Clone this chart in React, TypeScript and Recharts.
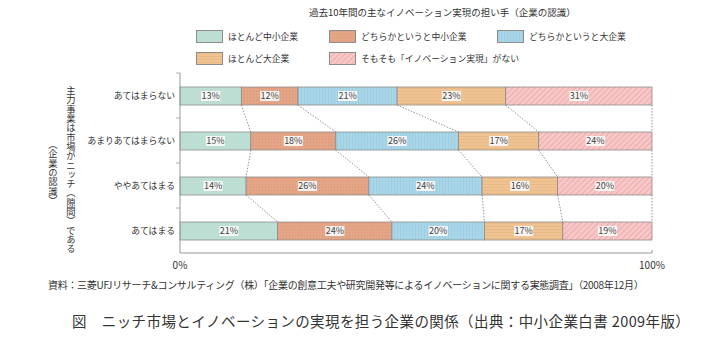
import { BarChart, Bar, XAxis, YAxis } from "recharts";

const categories = ["あてはまらない", "あまりあてはまらない", "ややあてはまる", "あてはまる"];
const mostlySME = [13, 15, 14, 20.7];
const ratherSME = [12, 18, 26, 24.2];
const ratherLarge = [21, 26, 24, 19.6];
const mostlyLarge = [23, 17, 16, 16.6];
const noInnovation = [31, 24, 20, 18.9];
const seriesNames = [
  "ほとんど中小企業",
  "どちらかというと中小企業",
  "どちらかというと大企業",
  "ほとんど大企業",
  "そもそも「イノベーション実現」がない",
];
const xTicks = [0, 100];

const series = [mostlySME, ratherSME, ratherLarge, mostlyLarge, noInnovation];
const keys = ["s0", "s1", "s2", "s3", "s4"];
const fills = ["url(#p0)", "url(#p1)", "url(#p2)", "url(#p3)", "url(#p4)"];
const swatch = ["#bddfd3", "#e4a486", "#a9d6e8", "#f0c392", "#f8c9c9"];

const data = categories.map((cat, i) => {
  const row: any = { cat };
  series.forEach((s, k) => (row[keys[k]] = s[i]));
  return row;
});

const W = 710;
const H = 342;
const M = { top: 73, right: 58, bottom: 69, left: 10 };
const X_H = 20;
const PLOT_H = H - M.top - M.bottom - X_H;
const BAND = PLOT_H / categories.length;
const FONT = '"Noto Sans CJK JP", "Noto Sans", sans-serif';

const cum = (k: number, i: number) => {
  let s = 0;
  for (let j = 0; j <= k; j++) s += series[j][i];
  return s;
};

const makeShape = (k: number) => (props: any) => {
  const { x, y, width, height, index } = props;
  const v = series[k][index];
  const pp = width / v;
  const x0 = x - (cum(k, index) - v) * pp;
  const last = index === categories.length - 1;
  const nx = last ? 0 : x0 + cum(k, index + 1) * pp;
  const label = `${Math.round(v)}%`;
  const cx = x + width / 2;
  const cy = y + height / 2;
  const bw = label.length * 5.4 + 3;
  return (
    <g>
      <rect x={x} y={y} width={width} height={height} fill={fills[k]} stroke="#8d8d8d" strokeWidth={0.8} />
      <rect x={cx - bw / 2} y={cy - 5} width={bw} height={10} fill="#fbfbfb" opacity={0.9} />
      <text x={cx} y={cy + 3.3} textAnchor="middle" fontSize={9} fill="#444" fontFamily={FONT}>
        {label}
      </text>
      {!last && (
        <line
          x1={x + width}
          y1={y + height}
          x2={nx}
          y2={y + BAND}
          stroke="#666"
          strokeWidth={0.7}
          strokeDasharray="1.5 1.5"
        />
      )}
    </g>
  );
};

const YTick = (props: any) => {
  const { x, y, payload } = props;
  const off = payload.offset ?? BAND / 2;
  return (
    <g>
      <text x={x} y={y + 3.5} textAnchor="end" fontSize={8.8} fill="#333" fontFamily={FONT}>
        {payload.value}
      </text>
      <line x1={x + 1} y1={y - off} x2={x + 5} y2={y - off} stroke="#999" strokeWidth={0.8} />
    </g>
  );
};

const XTick = (props: any) => {
  const { x, y, payload } = props;
  return (
    <g>
      <text x={x} y={y + 14} textAnchor="middle" fontSize={10} fill="#333" fontFamily={FONT}>
        {payload.value}%
      </text>
      {payload.value === 100 && <line x1={x} y1={y - 5} x2={x} y2={y - 2} stroke="#999" />}
    </g>
  );
};

const legendPos = [
  { left: 196, top: 30 },
  { left: 329, top: 30 },
  { left: 497, top: 30 },
  { left: 196, top: 52 },
  { left: 329, top: 52 },
];

export default function App() {
  return (
    <div style={{ position: "absolute", left: 0, top: 0, width: W, height: H, background: "#fff", fontFamily: FONT, color: "#333" }}>
      <div style={{ position: "absolute", left: 309, top: 5, fontSize: 9.5, whiteSpace: "nowrap" }}>
        過去10年間の主なイノベーション実現の担い手（企業の認識）
      </div>
      {seriesNames.map((n, k) => (
        <div key={n} style={{ position: "absolute", left: legendPos[k].left, top: legendPos[k].top, display: "flex", alignItems: "center", fontSize: 8.8, whiteSpace: "nowrap" }}>
          <svg width={27} height={13} style={{ marginRight: 5 }}>
            <defs>
              <Patterns idp={`l${k}`} />
            </defs>
            <rect x={0.5} y={0.5} width={26} height={12} fill={`url(#l${k}${k})`} stroke="#8d8d8d" />
          </svg>
          {n}
        </div>
      ))}
      <div style={{ position: "absolute", left: 62, top: 86, writingMode: "vertical-rl", fontSize: 9.3, lineHeight: "18px", whiteSpace: "nowrap" }}>
        主力事業は市場がニッチ（隙間）である
      </div>
      <div style={{ position: "absolute", left: 44, top: 140, writingMode: "vertical-rl", fontSize: 9.3, lineHeight: "18px", whiteSpace: "nowrap" }}>
        （企業の認識）
      </div>
      <div style={{ position: "absolute", left: 48, top: 277, fontSize: 10, whiteSpace: "nowrap", letterSpacing: -0.3 }}>
        資料：三菱UFJリサーチ&コンサルティング（株）「企業の創意工夫や研究開発等によるイノベーションに関する実態調査」（2008年12月）
      </div>
      <div style={{ position: "absolute", left: 72, top: 310, fontSize: 14.5, letterSpacing: 0.4, whiteSpace: "nowrap" }}>
        図　ニッチ市場とイノベーションの実現を担う企業の関係（出典：中小企業白書 2009年版）
      </div>
      <div style={{ position: "absolute", left: 0, top: 0 }}>
        <BarChart width={W} height={H} data={data} layout="vertical" margin={M} barSize={18}>
          <defs>
            <Patterns idp="p" />
          </defs>
          <XAxis
            type="number"
            domain={[0, 100]}
            ticks={xTicks}
            height={X_H}
            axisLine={{ stroke: "#999" }}
            tickLine={false}
            tickSize={0}
            tickMargin={2}
            tick={<XTick />}
          />
          <YAxis
            type="category"
            dataKey="cat"
            width={170}
            axisLine={{ stroke: "#999" }}
            tickLine={false}
            tickSize={0}
            tickMargin={5}
            tick={<YTick />}
          />
          {keys.map((key, k) => (
            <Bar key={key} dataKey={key} stackId="a" isAnimationActive={false} shape={makeShape(k)} />
          ))}
        </BarChart>
      </div>
    </div>
  );
}

function Patterns({ idp }: { idp: string }) {
  return (
    <>
      <pattern id={`${idp}0`} width={4} height={4} patternUnits="userSpaceOnUse">
        <rect width={4} height={4} fill={swatch[0]} />
      </pattern>
      <pattern id={`${idp}1`} width={3} height={3} patternUnits="userSpaceOnUse">
        <rect width={3} height={3} fill={swatch[1]} />
        <rect x={1} y={1} width={1} height={1} fill="#d8977a" />
      </pattern>
      <pattern id={`${idp}2`} width={3} height={3} patternUnits="userSpaceOnUse">
        <rect width={3} height={3} fill={swatch[2]} />
        <rect x={1} y={0} width={0.8} height={3} fill="#9ccbdf" />
      </pattern>
      <pattern id={`${idp}3`} width={3} height={3} patternUnits="userSpaceOnUse">
        <rect width={3} height={3} fill={swatch[3]} />
        <rect x={0} y={1} width={3} height={0.8} fill="#e6b783" />
      </pattern>
      <pattern id={`${idp}4`} width={4} height={4} patternUnits="userSpaceOnUse" patternTransform="rotate(45)">
        <rect width={4} height={4} fill={swatch[4]} />
        <rect x={0} y={0} width={1.2} height={4} fill="#efadad" />
      </pattern>
    </>
  );
}
